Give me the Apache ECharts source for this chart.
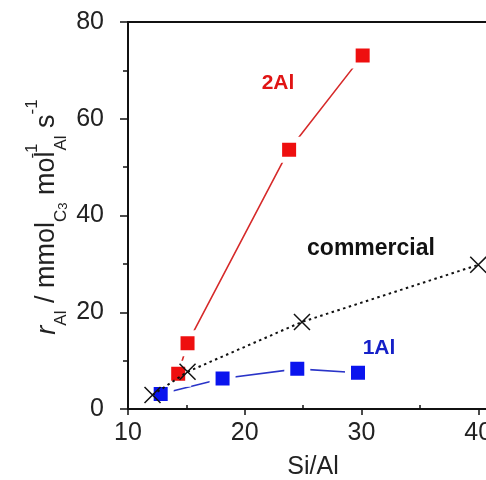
<!DOCTYPE html>
<html><head><meta charset="utf-8">
<script src="https://cdn.jsdelivr.net/npm/echarts@6/dist/echarts.min.js"></script>
<style>html,body{margin:0;padding:0;background:#fff}#c{width:486px;height:480px}</style>
</head><body><div id="c"></div>
<script>
// Data
const siAl2Al = [14.3, 15.1, 23.8, 30.1];
const rate2Al = [7.3, 13.6, 53.6, 73.1];
const siAl1Al = [12.8, 18.1, 24.5, 29.7];
const rate1Al = [3.1, 6.3, 8.3, 7.5];
const siAlCom = [12.1, 15.1, 24.9, 40.0];
const rateCom = [2.9, 7.7, 18.0, 29.8];
const seriesNames = ['1Al', '2Al', 'commercial'];
const xTickMin = 10, xTickMax = 50, xTickStep = 10;
const yTickMin = 0, yTickMax = 80, yTickStep = 20;
const xTitle = 'Si/Al';

const FONT = '"Liberation Sans", Arial, sans-serif';
const pairs = (xs, ys) => xs.map((x, i) => [x, ys[i]]);

const chart = echarts.init(document.getElementById('c'), null, {renderer: 'canvas'});
const squareStyle = (c) => ({color: c, borderColor: '#fff', borderWidth: 6});

chart.setOption({
  animation: false,
  backgroundColor: '#fff',
  grid: {left: 128, top: 22, bottom: 71, right: -109, outerBoundsMode: 'none', containLabel: false,
         show: true, borderColor: '#111', borderWidth: 2, backgroundColor: 'transparent'},
  xAxis: [{
    type: 'value', min: xTickMin, max: xTickMax, interval: xTickStep,
    axisLine: {show: true, onZero: false, lineStyle: {color: '#111', width: 2}},
    axisTick: {show: true, length: 6, lineStyle: {color: '#111', width: 1.5}},
    axisLabel: {fontSize: 25, fontFamily: FONT, color: '#222', margin: 12},
    splitLine: {show: false}
  }, {
    type: 'value', min: xTickMin, max: xTickMax, interval: xTickStep, position: 'bottom',
    axisLine: {show: false}, axisLabel: {show: false}, splitLine: {show: false},
    axisTick: {show: false, inside: true},
    minorTick: {show: true, splitNumber: 2, length: 4, lineStyle: {color: '#111', width: 1.5}}
  }],
  yAxis: {
    type: 'value', min: yTickMin, max: yTickMax, interval: yTickStep,
    axisLine: {show: true, onZero: false, lineStyle: {color: '#111', width: 2}},
    axisTick: {show: true, length: 8, lineStyle: {color: '#111', width: 1.5}},
    minorTick: {show: true, splitNumber: 2, length: 5, lineStyle: {color: '#111', width: 1.5}},
    axisLabel: {fontSize: 25, fontFamily: FONT, color: '#222', margin: 24},
    splitLine: {show: false}
  },
  series: [{
    name: seriesNames[0], type: 'line', data: pairs(siAl1Al, rate1Al),
    symbol: 'rect', symbolSize: 20, itemStyle: squareStyle('#0a14ee'),
    lineStyle: {color: '#2a34c8', width: 1.6}, z: 2
  }, {
    name: seriesNames[1], type: 'line', data: pairs(siAl2Al, rate2Al),
    symbol: 'rect', symbolSize: 20, itemStyle: squareStyle('#ee0f0f'),
    lineStyle: {color: '#d62a2a', width: 1.6}, z: 3
  }, {
    name: seriesNames[2], type: 'line', data: pairs(siAlCom, rateCom),
    symbol: 'path://M0,0L10,10M10,0L0,10', symbolSize: 16, symbolKeepAspect: true,
    itemStyle: {color: 'none', borderColor: '#111', borderWidth: 1.5},
    lineStyle: {color: '#111', width: 2, type: [2.5, 3.5]}, z: 4
  }],
  graphic: [
    {type: 'text', x: 278, y: 83, style: {text: seriesNames[1], font: 'bold 21px ' + FONT, fill: '#e01515', align: 'center', verticalAlign: 'middle'}},
    {type: 'text', x: 371, y: 249, style: {text: seriesNames[2], font: 'bold 23px ' + FONT, fill: '#111', align: 'center', verticalAlign: 'middle'}},
    {type: 'text', x: 379, y: 348, style: {text: seriesNames[0], font: 'bold 21px ' + FONT, fill: '#1520c8', align: 'center', verticalAlign: 'middle'}},
    {type: 'text', x: 313, y: 467, style: {text: xTitle, font: '25px ' + FONT, fill: '#222', align: 'center', verticalAlign: 'middle'}},
    {type: 'text', x: 47, y: 217, rotation: Math.PI / 2, style: {
      text: '{i|r}{sub|Al}{n| / mmol}{sub|C}{sub2|3}{n| mol}{supz|-1}{sub|Al}{n| s}{sup|-1}',
      align: 'center', verticalAlign: 'middle', fill: '#222',
      rich: {
        i: {fontSize: 27, fontFamily: FONT, fontStyle: 'italic', lineHeight: 46, verticalAlign: 'middle', fill: '#222'},
        n: {fontSize: 27, fontFamily: FONT, lineHeight: 46, verticalAlign: 'middle', fill: '#222'},
        sub: {fontSize: 17, fontFamily: FONT, lineHeight: 25, verticalAlign: 'bottom', fill: '#222'},
        sub2: {fontSize: 13, fontFamily: FONT, lineHeight: 15, verticalAlign: 'bottom', fill: '#222'},
        sup: {fontSize: 17, fontFamily: FONT, lineHeight: 25, verticalAlign: 'top', fill: '#222'},
        supz: {fontSize: 17, fontFamily: FONT, lineHeight: 25, verticalAlign: 'top', width: 1, fill: '#222'}
      }
    }}
  ]
});
</script></body></html>
